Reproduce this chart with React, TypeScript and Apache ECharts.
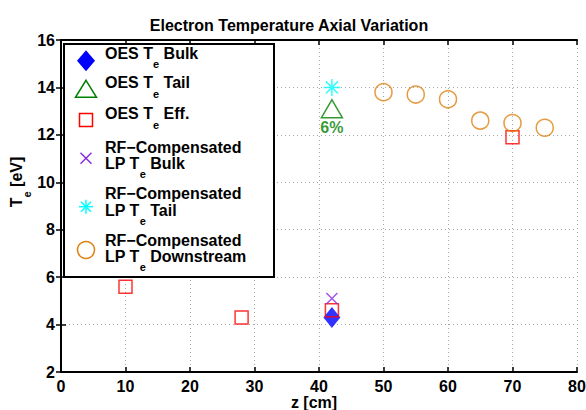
import React, { useEffect, useRef } from 'react';
import * as echarts from 'echarts';

// ---- data ----
const oesBulkZ = [42];
const oesBulkTe = [4.3];
const oesTailZ = [42];
const oesTailTe = [13.1];
const oesEffZ = [10, 28, 42, 70];
const oesEffTe = [5.6, 4.3, 4.6, 11.9];
const lpBulkZ = [42];
const lpBulkTe = [5.1];
const lpTailZ = [42];
const lpTailTe = [14.0];
const lpDownZ = [50, 55, 60, 65, 70, 75];
const lpDownTe = [13.8, 13.7, 13.5, 12.6, 12.5, 12.3];
const tailAnnotation = ['6%'];

const seriesNames = [
  'OES Te Bulk',
  'OES Te Tail',
  'OES Te Eff.',
  'RF-Compensated LP Te Bulk',
  'RF-Compensated LP Te Tail',
  'RF-Compensated LP Te Downstream',
];
// legend text lines; "_e" marks a subscript letter
const legendTexts: string[][] = [
  ['OES T_e Bulk'],
  ['OES T_e Tail'],
  ['OES T_e Eff.'],
  ['RF\u2212Compensated', 'LP T_e Bulk'],
  ['RF\u2212Compensated', 'LP T_e Tail'],
  ['RF\u2212Compensated', 'LP T_e Downstream'],
];
const titleText = 'Electron Temperature Axial Variation';
const xName = 'z [cm]';
const yName = 'T_e [eV]';

const FONT = '"Liberation Sans", Arial, Helvetica, sans-serif';
const BLUE = '#0000ff';
const GREEN = '#008000';
const RED = '#ff0000';
const PURPLE = '#8a2be2';
const CYAN = '#00ffff';
const ORANGE = '#df8212';

const MAIN_SIZE = 16;
const SUB_SIZE = 11;
const SUB_DY = 11;

const pairs = (xs: number[], ys: number[]) => xs.map((x, i) => [x, ys[i]]);

let measureCtx: CanvasRenderingContext2D | null = null;
function textWidth(t: string, size: number) {
  if (!measureCtx) measureCtx = document.createElement('canvas').getContext('2d');
  measureCtx!.font = `bold ${size}px ${FONT}`;
  return measureCtx!.measureText(t).width;
}

// builds text elements for a line with subscripts; x0 = left, y = centre of main text
function lineTexts(line: string, x0: number, y: number, z: number) {
  const parts = line.split(/_(\w)/);
  const els: any[] = [];
  let x = x0;
  parts.forEach((p, i) => {
    if (!p) return;
    const sub = i % 2 === 1;
    const size = sub ? SUB_SIZE : MAIN_SIZE;
    els.push({
      type: 'text', z,
      style: {
        text: p, x, y: sub ? y + SUB_DY : y,
        fontSize: size, fontWeight: 'bold', fontFamily: FONT, fill: '#000',
        align: 'left', verticalAlign: 'middle',
      },
    });
    x += textWidth(p, size);
  });
  return { els, width: x - x0 };
}

export default function App() {
  const ref = useRef<HTMLDivElement>(null);
  useEffect(() => {
    const chart = echarts.init(ref.current!, null, { renderer: 'svg' });

    const axisCommon = {
      axisLine: { show: true, lineStyle: { color: '#000', width: 2 } },
      axisTick: { show: true, inside: true, length: 5, lineStyle: { color: '#000', width: 1.5 } },
    };
    const splitLine = { show: true, lineStyle: { color: '#a8a8a8', width: 1, type: [1, 3] } };
    const labelStyle = { color: '#000', fontSize: 16, fontWeight: 'bold', fontFamily: FONT };

    // legend layout (positions only)
    const LX = 64, LY = 44, LW = 210, LH = 233;
    const iconX = 86;
    const iconY = [60.7, 89.3, 120, 158.3, 206.7, 250];
    const lineCenters: number[][] = [[53], [82.5], [113.5], [147, 163.3], [193.3, 210], [240, 256]];
    const textX = 105;

    const g: any[] = [
      { type: 'rect', shape: { x: LX, y: LY, width: LW, height: LH }, style: { fill: '#fff', stroke: '#000', lineWidth: 2 }, z: 10 },
    ];
    g.push({ type: 'polygon', shape: { points: [[iconX, iconY[0] - 10.5], [iconX + 9, iconY[0]], [iconX, iconY[0] + 10.5], [iconX - 9, iconY[0]]] }, style: { fill: BLUE }, z: 11 });
    g.push({ type: 'polygon', shape: { points: [[iconX, iconY[1] - 9], [iconX + 10.5, iconY[1] + 8], [iconX - 10.5, iconY[1] + 8]] }, style: { fill: 'none', stroke: GREEN, lineWidth: 1.5 }, z: 11 });
    g.push({ type: 'rect', shape: { x: iconX - 6.5, y: iconY[2] - 6.5, width: 13, height: 13 }, style: { fill: 'none', stroke: RED, lineWidth: 1.5 }, z: 11 });
    g.push({ type: 'line', shape: { x1: iconX - 5.5, y1: iconY[3] - 5.5, x2: iconX + 5.5, y2: iconY[3] + 5.5 }, style: { stroke: PURPLE, lineWidth: 1.5 }, z: 11 });
    g.push({ type: 'line', shape: { x1: iconX + 5.5, y1: iconY[3] - 5.5, x2: iconX - 5.5, y2: iconY[3] + 5.5 }, style: { stroke: PURPLE, lineWidth: 1.5 }, z: 11 });
    [[0, -7, 0, 7], [-7, 0, 7, 0], [-5, -5, 5, 5], [5, -5, -5, 5]].forEach((s) => {
      g.push({ type: 'line', shape: { x1: iconX + s[0], y1: iconY[4] + s[1], x2: iconX + s[2], y2: iconY[4] + s[3] }, style: { stroke: CYAN, lineWidth: 1.5 }, z: 11 });
    });
    g.push({ type: 'circle', shape: { cx: iconX, cy: iconY[5], r: 8.5 }, style: { fill: 'none', stroke: ORANGE, lineWidth: 1.5 }, z: 11 });
    legendTexts.forEach((lines, i) => {
      lines.forEach((t, j) => {
        g.push(...lineTexts(t, textX, lineCenters[i][j], 12).els);
      });
    });

    // rotated y-axis name
    const yl = lineTexts(yName, 0, 0, 12);
    yl.els.forEach((e) => { e.style.x -= yl.width / 2; });
    g.push({ type: 'group', x: 16, y: 182, rotation: Math.PI / 2, children: yl.els });

    const option: any = {
      animation: false,
      backgroundColor: '#fff',
      title: {
        text: titleText, left: 284, top: 12, textAlign: 'center',
        textStyle: { fontSize: 16, fontWeight: 'bold', color: '#000', fontFamily: FONT },
      },
      grid: { left: 61, right: 9, top: 40, bottom: 38, containLabel: false, outerBoundsMode: 'none' },
      xAxis: [
        {
          type: 'value', min: 0, max: 80, interval: 10, position: 'bottom',
          ...axisCommon, splitLine,
          axisLabel: { ...labelStyle, margin: 6 },
          name: xName, nameLocation: 'middle', nameGap: 22, nameMoveOverlap: false,
          nameTextStyle: { ...labelStyle, padding: [0, 10, 0, 0] },
        },
        {
          type: 'value', min: 0, max: 80, interval: 10, position: 'top',
          ...axisCommon, splitLine: { show: false }, axisLabel: { show: false },
        },
      ],
      yAxis: [
        {
          type: 'value', min: 2, max: 16, interval: 2, position: 'left',
          ...axisCommon, splitLine,
          axisLabel: { ...labelStyle, margin: 6 },
        },
        {
          type: 'value', min: 2, max: 16, interval: 2, position: 'right',
          ...axisCommon, splitLine: { show: false }, axisLabel: { show: false },
        },
      ],
      graphic: g,
      series: [
        {
          name: seriesNames[0], type: 'scatter', data: pairs(oesBulkZ, oesBulkTe),
          symbol: 'diamond', symbolSize: [17, 21], itemStyle: { color: BLUE },
        },
        {
          name: seriesNames[1], type: 'scatter', data: pairs(oesTailZ, oesTailTe),
          symbol: 'triangle', symbolSize: [21, 18],
          itemStyle: { color: 'transparent', borderColor: GREEN, borderWidth: 1.5 },
          label: {
            show: true, position: 'bottom', distance: 1, formatter: () => tailAnnotation[0],
            color: GREEN, fontSize: 16, fontWeight: 'bold', fontFamily: FONT,
          },
        },
        {
          name: seriesNames[2], type: 'scatter', data: pairs(oesEffZ, oesEffTe),
          symbol: 'rect', symbolSize: 13,
          itemStyle: { color: 'transparent', borderColor: RED, borderWidth: 1.5 },
        },
        {
          name: seriesNames[3], type: 'scatter', data: pairs(lpBulkZ, lpBulkTe),
          symbol: 'path://M0,0L10,10M10,0L0,10', symbolSize: 11,
          itemStyle: { color: 'transparent', borderColor: PURPLE, borderWidth: 1.5 },
        },
        {
          name: seriesNames[4], type: 'scatter', data: pairs(lpTailZ, lpTailTe),
          symbol: 'path://M7,0L7,14M0,7L14,7M2,2L12,12M12,2L2,12', symbolSize: 17,
          itemStyle: { color: 'transparent', borderColor: CYAN, borderWidth: 1.5 },
        },
        {
          name: seriesNames[5], type: 'scatter', data: pairs(lpDownZ, lpDownTe),
          symbol: 'circle', symbolSize: 17,
          itemStyle: { color: 'transparent', borderColor: ORANGE, borderWidth: 1.5 },
        },
      ],
    };
    chart.setOption(option);
    return () => chart.dispose();
  }, []);
  return <div ref={ref} style={{ position: 'fixed', left: 0, top: 0, width: 586, height: 410 }} />;
}
